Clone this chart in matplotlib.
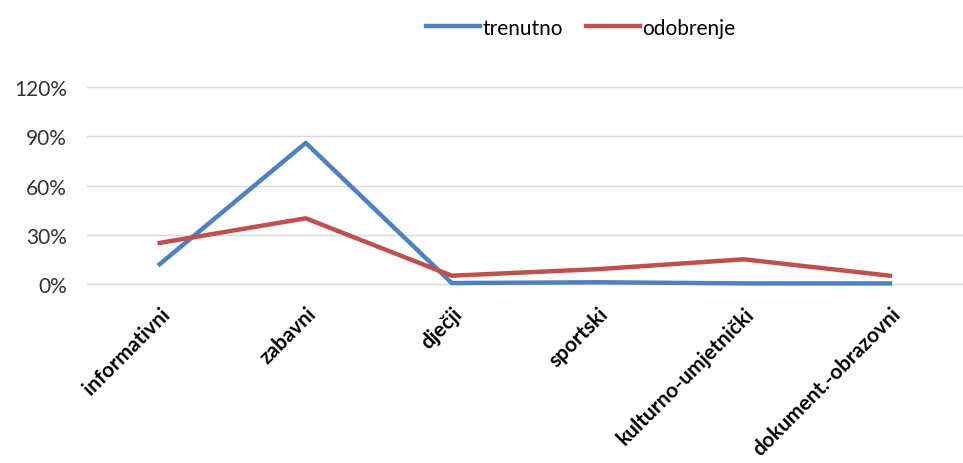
import matplotlib.pyplot as plt
from matplotlib.ticker import PercentFormatter

categories = ["informativni", "zabavni", "dječji", "sportski", "kulturno-umjetnički", "dokument.-obrazovni"]
trenutno = [12, 86, 0.5, 1, 0.3, 0.3]
odobrenje = [25, 40, 5, 9, 15, 5]
y_ticks = [0, 30, 60, 90, 120]

plt.rcParams['font.family'] = ['Lato', 'DejaVu Sans']

fig = plt.figure(figsize=(9.63, 4.64), dpi=100)
ax = fig.add_axes([0.09, 0.386, 0.91, 0.424])

x = list(range(len(categories)))
ax.plot(x, trenutno, color='#4F81BD', linewidth=3.2, label='trenutno', clip_on=False)
ax.plot(x, odobrenje, color='#C0504D', linewidth=3.2, label='odobrenje', clip_on=False)

ax.set_xlim(-0.5, len(categories) - 0.5)
ax.set_ylim(0, 120)
ax.set_yticks(y_ticks)
ax.yaxis.set_major_formatter(PercentFormatter(decimals=0))
ax.grid(axis='y', color='#D9D9D9', linewidth=1)
ax.axhline(0, color='#D9D9D9', linewidth=1, clip_on=False, zorder=0)
ax.set_axisbelow(True)
for s in ax.spines.values():
    s.set_visible(False)
ax.tick_params(axis='both', length=0, labelsize=15, colors='#333333')
ax.tick_params(axis='y', pad=14)
ax.tick_params(axis='x', pad=14)

ax.set_xticks(x)
ax.set_xticklabels(categories, rotation=45, ha='right', rotation_mode='anchor',
                   fontweight='bold', fontsize=15, color='black')

fig.legend(loc='upper center', bbox_to_anchor=(0.603, 1.0), ncol=2, frameon=False,
           fontsize=15, handlelength=2.6, handletextpad=0.1, columnspacing=1.1)

fig.savefig('out.png', dpi=100)
